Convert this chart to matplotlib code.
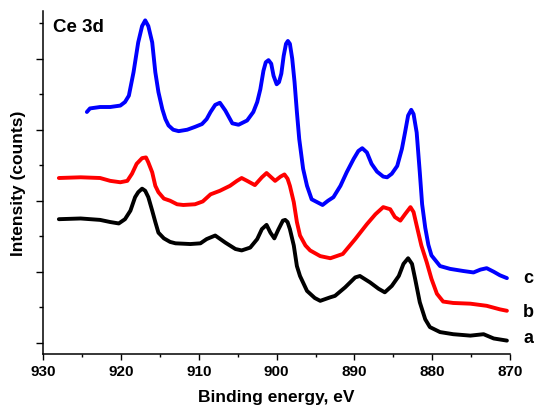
import matplotlib
matplotlib.use("Agg")
import matplotlib.pyplot as plt
from matplotlib.ticker import MultipleLocator, NullFormatter

# ---- data (binding energy in eV, intensity in arbitrary offset units) ----
energy_a = [928.0, 925.2, 922.7, 921.4, 920.3, 919.5, 918.8, 918.2, 917.8, 917.3,
            916.9, 916.5, 916.0, 915.6, 915.2, 914.5, 913.7, 913.0, 911.1, 909.8,
            909.0, 907.9, 906.6, 905.3, 904.5, 903.4, 902.5, 901.9, 901.3, 900.8,
            900.3, 899.8, 899.2, 898.9, 898.6, 898.3, 897.8, 897.4, 897.0, 896.1,
            895.1, 894.4, 893.1, 892.5, 891.2, 889.9, 889.3, 888.0, 886.9, 886.1,
            885.2, 884.3, 883.7, 883.1, 882.6, 882.2, 881.6, 880.9, 880.3, 879.0,
            877.3, 875.1, 873.4, 872.1, 870.4]
intensity_a = [1.74, 1.75, 1.73, 1.70, 1.68, 1.74, 1.86, 2.05, 2.12, 2.17,
               2.14, 2.05, 1.86, 1.70, 1.55, 1.47, 1.42, 1.40, 1.39, 1.40,
               1.46, 1.51, 1.41, 1.32, 1.30, 1.34, 1.46, 1.60, 1.66, 1.55,
               1.47, 1.59, 1.72, 1.73, 1.70, 1.60, 1.37, 1.08, 0.94, 0.73,
               0.63, 0.59, 0.64, 0.66, 0.78, 0.92, 0.94, 0.85, 0.76, 0.71,
               0.80, 0.94, 1.11, 1.19, 1.11, 0.90, 0.57, 0.33, 0.22, 0.15,
               0.12, 0.10, 0.12, 0.06, 0.03]

energy_b = [928.0, 925.2, 922.7, 921.4, 920.1, 919.2, 918.6, 918.0, 917.3, 916.8,
            916.5, 916.0, 915.6, 915.2, 914.5, 913.7, 912.8, 912.0, 910.5, 909.5,
            908.5, 907.3, 906.0, 905.1, 904.5, 903.8, 902.8, 901.9, 901.3, 900.7,
            900.2, 899.5, 899.0, 898.6, 898.3, 897.8, 897.4, 897.0, 896.3, 895.7,
            894.4, 893.1, 891.5, 889.9, 888.4, 887.3, 886.3, 885.4, 884.8, 884.1,
            883.5, 882.8, 882.4, 882.0, 881.4, 880.7, 880.1, 879.4, 878.6, 877.3,
            875.1, 873.0, 871.3, 870.4]
intensity_b = [2.32, 2.33, 2.32, 2.28, 2.26, 2.28, 2.38, 2.52, 2.60, 2.61,
               2.54, 2.40, 2.21, 2.12, 2.03, 2.00, 1.95, 1.94, 1.95, 1.99,
               2.09, 2.14, 2.21, 2.28, 2.32, 2.28, 2.22, 2.33, 2.39, 2.33,
               2.28, 2.34, 2.37, 2.31, 2.21, 1.98, 1.70, 1.51, 1.37, 1.30,
               1.22, 1.19, 1.25, 1.46, 1.67, 1.81, 1.91, 1.88, 1.77, 1.72,
               1.81, 1.91, 1.84, 1.65, 1.37, 1.13, 0.90, 0.69, 0.58, 0.56,
               0.55, 0.52, 0.47, 0.45]

energy_c = [924.4, 924.0, 922.7, 921.4, 920.1, 919.5, 919.0, 918.4, 917.8, 917.3,
            916.9, 916.5, 916.0, 915.6, 915.2, 914.7, 914.3, 913.9, 913.3, 912.6,
            911.5, 910.5, 909.6, 909.0, 908.5, 907.9, 907.3, 906.6, 905.7, 904.9,
            903.8, 903.0, 902.5, 902.1, 901.7, 901.4, 901.05, 900.7, 900.4, 900.0,
            899.7, 899.4, 899.1, 898.8, 898.56, 898.3, 898.0, 897.7, 897.4, 897.1,
            896.6, 896.1, 895.5, 894.8, 894.1, 893.4, 892.7, 891.8, 891.0, 890.1,
            889.5, 889.0, 888.4, 887.8, 887.1, 886.3, 885.8, 885.2, 884.5, 883.9,
            883.5, 883.1, 882.7, 882.4, 882.0, 881.6, 881.3, 880.9, 880.5, 880.1,
            879.0, 877.7, 876.0, 874.7, 873.8, 873.0, 872.1, 871.3, 870.4]
intensity_c = [3.25, 3.30, 3.32, 3.32, 3.34, 3.39, 3.48, 3.81, 4.23, 4.46,
               4.54, 4.46, 4.23, 3.81, 3.53, 3.29, 3.15, 3.06, 3.00, 2.98,
               3.00, 3.04, 3.08, 3.15, 3.25, 3.35, 3.38, 3.27, 3.09, 3.07,
               3.13, 3.25, 3.39, 3.57, 3.83, 3.95, 3.98, 3.93, 3.76, 3.64,
               3.67, 3.79, 4.04, 4.21, 4.25, 4.21, 4.00, 3.67, 3.25, 2.87,
               2.45, 2.21, 2.02, 1.98, 1.94, 2.00, 2.05, 2.21, 2.40, 2.59,
               2.70, 2.74, 2.68, 2.52, 2.41, 2.34, 2.33, 2.38, 2.49, 2.73,
               2.96, 3.20, 3.28, 3.22, 2.96, 2.40, 1.95, 1.62, 1.38, 1.23,
               1.08, 1.04, 1.01, 0.99, 1.03, 1.05, 1.00, 0.95, 0.91]

series_labels = ["a", "b", "c"]
series_colors = ["black", "red", "blue"]
x_ticks = [930, 920, 910, 900, 890, 880, 870]

plt.rcParams['font.family'] = ['Liberation Sans', 'DejaVu Sans']
plt.rcParams['font.weight'] = 'bold'

fig = plt.figure(figsize=(5.34, 4.10), dpi=100)
ax = fig.add_axes([0.0811, 0.1341, 0.874, 0.8366])

for e, i, col in zip([energy_a, energy_b, energy_c],
                     [intensity_a, intensity_b, intensity_c], series_colors):
    ax.plot(e, i, color=col, lw=2.8, solid_joinstyle='round', solid_capstyle='round')

ax.set_xlim(930, 870)
ax.set_ylim(-0.159, 4.672)
ax.set_xticks(x_ticks)
ax.set_xticklabels([str(t) for t in x_ticks], fontsize=11, fontweight='bold')
ax.xaxis.set_minor_locator(MultipleLocator(5))
ax.yaxis.set_major_locator(MultipleLocator(1))
ax.yaxis.set_minor_locator(MultipleLocator(0.5))
ax.yaxis.set_major_formatter(NullFormatter())

for s in ['top', 'right']:
    ax.spines[s].set_visible(False)
for s in ['left', 'bottom']:
    ax.spines[s].set_linewidth(1.1)

ax.tick_params(axis='x', which='major', direction='out', length=4, width=1.0, pad=3)
ax.tick_params(axis='x', which='minor', direction='out', length=2.5, width=1.0)
ax.tick_params(axis='y', which='major', direction='out', length=5, width=1.0)
ax.tick_params(axis='y', which='minor', direction='out', length=3, width=1.0)

ax.set_xlabel("Binding energy, eV", fontsize=12.5, fontweight='bold', labelpad=8)
ax.set_ylabel("Intensity (counts)", fontsize=12.5, fontweight='bold', labelpad=4)

fig.text(52.7 / 534, 1 - 31.7 / 410, "Ce 3d", fontsize=13.5, fontweight='bold',
         ha='left', va='baseline')

label_baselines = [343.3, 316.7, 283.3]
for lab, yb in zip(series_labels, label_baselines):
    fig.text(523.0 / 534, 1 - yb / 410, lab, fontsize=13, fontweight='bold',
             ha='left', va='baseline')

fig.savefig("out.png", dpi=100)
